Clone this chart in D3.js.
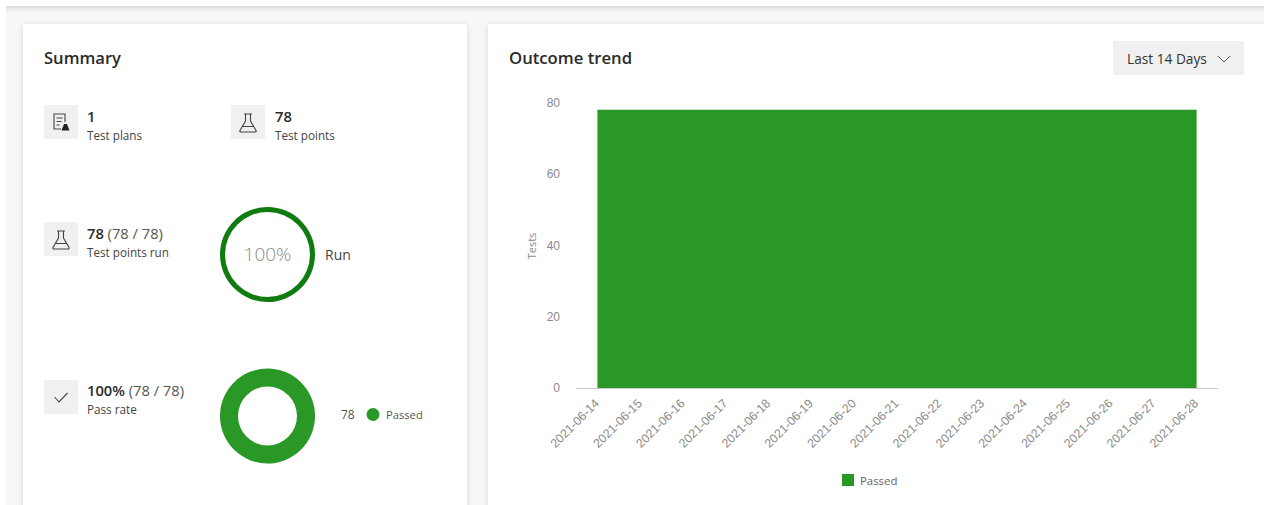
<!DOCTYPE html>
<html><head><meta charset="utf-8">
<script src="https://cdn.jsdelivr.net/npm/d3@7/dist/d3.min.js"></script>
<style>
html,body{margin:0;padding:0;background:#fff;overflow:hidden}
svg{display:block;font-family:"Open Sans","Noto Sans",sans-serif}
</style></head><body><svg id="c" width="1264" height="505"></svg>
<script>
const trendDates = ["2021-06-14","2021-06-15","2021-06-16","2021-06-17","2021-06-18","2021-06-19","2021-06-20","2021-06-21","2021-06-22","2021-06-23","2021-06-24","2021-06-25","2021-06-26","2021-06-27","2021-06-28"];
const passedValues = [78,78,78,78,78,78,78,78,78,78,78,78,78,78,78];
const yTicks = [0,20,40,60,80];
const runShare = [{name:"Run",value:78}];
const passShare = [{name:"Passed",value:78}];
const GREEN="#299826", DARK="#107c10";
const svg=d3.select("#c");
const defs=svg.append("defs");
const f=defs.append("filter").attr("id","sh").attr("x","-5%").attr("y","-5%").attr("width","110%").attr("height","110%");
f.append("feDropShadow").attr("dx",0).attr("dy",1).attr("stdDeviation",3).attr("flood-color","#000").attr("flood-opacity",.14);
const t=defs.append("filter").attr("id","top").attr("x","-5%").attr("y","-50%").attr("width","110%").attr("height","300%");
t.append("feDropShadow").attr("dx",0).attr("dy",1).attr("stdDeviation",3.5).attr("flood-color","#000").attr("flood-opacity",.2);
svg.append("rect").attr("width",1264).attr("height",505).attr("fill","#f8f8f8");
// top and left page edges
svg.append("rect").attr("x",-10).attr("y",-10).attr("width",1290).attr("height",16).attr("fill","#fff").attr("filter","url(#top)");
svg.append("rect").attr("x",0).attr("y",0).attr("width",6).attr("height",505).attr("fill","#fff");
// cards
[[23,24,444,500],[488,24,800,500]].forEach(([x,y,w,h])=>svg.append("rect").attr("x",x).attr("y",y).attr("width",w).attr("height",h).attr("rx",3).attr("fill","#fff").attr("filter","url(#sh)"));
function txt(x,y,s,o={}){return svg.append("text").attr("x",x).attr("y",y).text(s).attr("font-size",o.size||12).attr("font-weight",o.weight||400).attr("fill",o.fill||"#333").attr("text-anchor",o.anchor||"start");}
txt(44,64,"Summary",{size:16.6,weight:600,fill:"#2a2a2a"});
txt(509,64,"Outcome trend",{size:16.7,weight:600,fill:"#2a2a2a"});
// dropdown
svg.append("rect").attr("x",1113).attr("y",41).attr("width",131).attr("height",34).attr("rx",1).attr("fill","#f0f0f0");
txt(1127,64,"Last 14 Days",{size:13.7,fill:"#333"});
svg.append("path").attr("d","M1218 56l6 6 6-6").attr("fill","none").attr("stroke","#555");
// tiles
const flask=(x,y)=>`M${x+13} ${y+9}h8M${x+14.5} ${y+9}v7l-5.5 9.5q-.5 1.5 1 1.5h14q1.5 0 1-1.5l-5.5-9.5v-7M${x+11} ${y+21.5}h12`;
function tile(x,y,kind){
  svg.append("rect").attr("x",x).attr("y",y).attr("width",34).attr("height",34).attr("fill","#f0f0f0");
  if(kind==="flask") svg.append("path").attr("d",flask(x,y)).attr("fill","none").attr("stroke","#444").attr("stroke-width",1.1);
  if(kind==="plan"){
    svg.append("path").attr("d",`M${x+21} ${y+17}v-8h-11v15h7M${x+12.5} ${y+13}h6M${x+12.5} ${y+16.5}h5M${x+12.5} ${y+20}h3`).attr("fill","none").attr("stroke","#444").attr("stroke-width",1.1);
    svg.append("path").attr("d",`M${x+20} ${y+19}h3l2.5 6.5h-8z`).attr("fill","#222");
  }
  if(kind==="check") svg.append("path").attr("d",`M${x+10.5} ${y+17}l4.5 5 8.5-9`).attr("fill","none").attr("stroke","#444").attr("stroke-width",1.1);
}
function stat(x,y,big,rest,label){
  const s=txt(x,y,big,{size:14.7,weight:600,fill:"#2a2a2a"});
  if(rest) s.append("tspan").text(" "+rest).attr("font-weight",400).attr("fill","#555");
  txt(x,y+18,label,{size:11.7,fill:"#444"});
}
tile(44,105,"plan"); stat(87,122,"1","","Test plans");
tile(231,105,"flask"); stat(275,122,"78","","Test points");
tile(44,222,"flask"); stat(87,239,"78","(78 / 78)","Test points run");
tile(44,380,"check"); stat(87,396,"100%","(78 / 78)","Pass rate");
// donuts
const pie=d3.pie().value(d=>d.value).sort(null);
const g1=svg.append("g").attr("transform","translate(267.5,254.5)");
g1.selectAll("path").data(pie(runShare)).join("path").attr("d",d3.arc().innerRadius(42.5).outerRadius(47.5)).attr("fill",DARK);
txt(267.5,261,"100%",{size:19,fill:"#8a8a8a",anchor:"middle"}).attr("font-weight",300);
txt(325,260,"Run",{size:14,fill:"#444"});
const g2=svg.append("g").attr("transform","translate(267.5,416)");
g2.selectAll("path").data(pie(passShare)).join("path").attr("d",d3.arc().innerRadius(29.5).outerRadius(47.5)).attr("fill",GREEN);
txt(341,419,String(passShare[0].value),{size:12,fill:"#555"});
svg.append("circle").attr("cx",373).attr("cy",414.5).attr("r",6.5).attr("fill",GREEN);
txt(386,419,passShare[0].name,{size:11.2,fill:"#555"});
// trend chart
const x=d3.scalePoint().domain(trendDates).range([576,1218]).padding(.5);
const y=d3.scaleLinear().domain([0,80]).range([388,102.5]);
const area=d3.area().x((d,i)=>x(trendDates[i])).y0(y(0)).y1(d=>y(d));
svg.append("path").datum(passedValues).attr("d",area).attr("fill",GREEN);
const ax=svg.append("g").attr("transform","translate(0,388)").call(d3.axisBottom(x).tickSize(0));
ax.select(".domain").attr("stroke","#ccc").attr("d","M576 0.5H1218");
ax.selectAll("text").attr("font-family","inherit").attr("font-size",12.3).attr("fill","#8a8a8a").attr("text-anchor","end")
  .attr("x",0).attr("y",0).attr("dy",".35em").attr("transform","translate(-1,13) rotate(-45)");
const ay=svg.append("g").attr("transform","translate(576,0)").call(d3.axisLeft(y).tickValues(yTicks).tickSize(0).tickPadding(16));
ay.select(".domain").remove();
ay.selectAll("text").attr("font-family","inherit").attr("font-size",12).attr("fill","#8a8a8a");
svg.append("text").attr("transform","translate(536,246) rotate(-90)").attr("text-anchor","middle").attr("font-size",11).attr("fill","#8a8a8a").text("Tests");
svg.append("rect").attr("x",842).attr("y",474).attr("width",12).attr("height",12).attr("fill",GREEN);
txt(860,485,"Passed",{size:11.4,fill:"#666"});
</script></body></html>
